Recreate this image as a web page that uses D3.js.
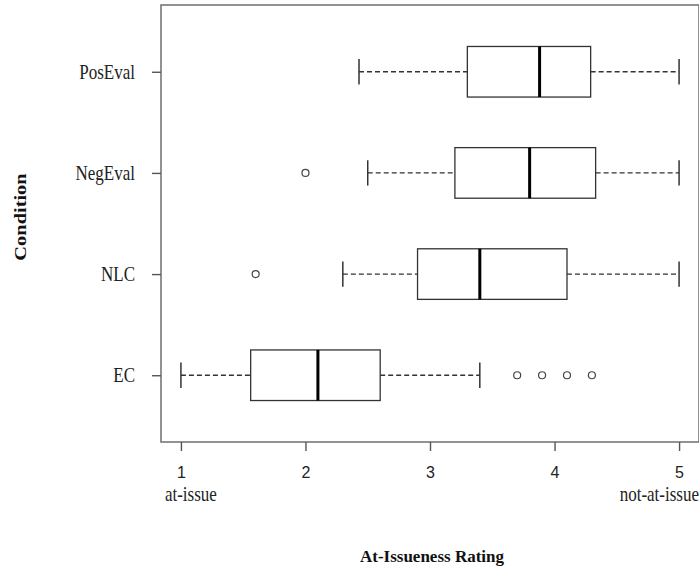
<!DOCTYPE html>
<meta charset="utf-8">
<style>
body { margin: 0; background: #fff; }
.frame { fill: none; stroke: #777; stroke-width: 1.6px; }
.box { fill: #fff; stroke: #333; stroke-width: 1.3px; }
.median { stroke: #000; stroke-width: 3px; }
.whisker { stroke: #333; stroke-width: 1.3px; stroke-dasharray: 5,3; }
.staple { stroke: #333; stroke-width: 1.5px; }
.outlier { fill: none; stroke: #444; stroke-width: 1.2px; }
.xaxis text { font: 16px "Liberation Sans", Arial, sans-serif; fill: #222; }
.xaxis line, .yaxis line { stroke: #555; stroke-width: 1.4px; }
.yaxis text { font: 17px "Liberation Serif", "Times New Roman", serif; fill: #222; }
.note { font: 17px "Liberation Serif", "Times New Roman", serif; fill: #222; }
.title { font: bold 17px "Liberation Serif", "Times New Roman", serif; fill: #111; }
</style>
<svg width="699" height="571"></svg>
<script src="https://d3js.org/d3.v7.min.js"></script>
<script>
// values, bottom to top
var conditions = ["EC", "NLC", "NegEval", "PosEval"];
var whiskerLow = [1.0, 2.3, 2.5, 2.43];
var q1 = [1.56, 2.9, 3.2, 3.3];
var medians = [2.1, 3.4, 3.8, 3.88];
var q3 = [2.6, 4.1, 4.33, 4.29];
var whiskerHigh = [3.4, 5.0, 5.0, 5.0];
var outliers = [[3.7, 3.9, 4.1, 4.3], [1.6], [2.0], []];
var xTicks = [1, 2, 3, 4, 5];

var svg = d3.select("svg");
var plotLeft = 161, plotRight = 699, plotTop = 5, plotBottom = 442;
var stretch = "scale(1,1.25)";   // the original text is a bit taller than wide

var x = d3.scaleLinear().domain([0.84, 5.16]).range([plotLeft, plotRight]);
var y = d3.scaleLinear().domain([0.34, 4.66]).range([plotBottom, plotTop]);
var boxHalf = 0.25, stapleHalf = 0.125;

var stats = conditions.map(function(c, i) {
    return { name: c, pos: i + 1, lo: whiskerLow[i], q1: q1[i], med: medians[i],
             q3: q3[i], hi: whiskerHigh[i], out: outliers[i] };
});

var grp = svg.append("g").selectAll(".cond").data(stats).enter().append("g").attr("class", "cond");

// whiskers
grp.append("line").attr("class", "whisker")
    .attr("x1", function(d) { return x(d.lo); }).attr("x2", function(d) { return x(d.q1); })
    .attr("y1", function(d) { return y(d.pos); }).attr("y2", function(d) { return y(d.pos); });
grp.append("line").attr("class", "whisker")
    .attr("x1", function(d) { return x(d.q3); }).attr("x2", function(d) { return x(d.hi); })
    .attr("y1", function(d) { return y(d.pos); }).attr("y2", function(d) { return y(d.pos); });

// staples
grp.append("line").attr("class", "staple")
    .attr("x1", function(d) { return x(d.lo); }).attr("x2", function(d) { return x(d.lo); })
    .attr("y1", function(d) { return y(d.pos + stapleHalf); }).attr("y2", function(d) { return y(d.pos - stapleHalf); });
grp.append("line").attr("class", "staple")
    .attr("x1", function(d) { return x(d.hi); }).attr("x2", function(d) { return x(d.hi); })
    .attr("y1", function(d) { return y(d.pos + stapleHalf); }).attr("y2", function(d) { return y(d.pos - stapleHalf); });

// boxes
grp.append("rect").attr("class", "box")
    .attr("x", function(d) { return x(d.q1); })
    .attr("y", function(d) { return y(d.pos + boxHalf); })
    .attr("width", function(d) { return x(d.q3) - x(d.q1); })
    .attr("height", function(d) { return y(d.pos - boxHalf) - y(d.pos + boxHalf); });

grp.append("line").attr("class", "median")
    .attr("x1", function(d) { return x(d.med); }).attr("x2", function(d) { return x(d.med); })
    .attr("y1", function(d) { return y(d.pos + boxHalf); }).attr("y2", function(d) { return y(d.pos - boxHalf); });

grp.selectAll(".outlier")
    .data(function(d) { return d.out.map(function(v) { return { v: v, pos: d.pos }; }); })
    .enter().append("circle").attr("class", "outlier")
    .attr("cx", function(d) { return x(d.v); })
    .attr("cy", function(d) { return y(d.pos); })
    .attr("r", 3.5);

// frame
svg.append("rect").attr("class", "frame")
    .attr("x", plotLeft).attr("y", plotTop)
    .attr("width", plotRight - plotLeft).attr("height", plotBottom - plotTop);

// axes
var xAxis = svg.append("g").attr("class", "xaxis")
    .attr("transform", "translate(0," + plotBottom + ")")
    .call(d3.axisBottom(x).tickValues(xTicks).tickFormat(d3.format("d")).tickSize(9).tickPadding(16));
xAxis.select(".domain").remove();

var yAxis = svg.append("g").attr("class", "yaxis")
    .attr("transform", "translate(" + plotLeft + ",0)")
    .call(d3.axisLeft(y).tickValues([1, 2, 3, 4])
        .tickFormat(function(d) { return conditions[d - 1]; })
        .tickSize(9).tickPadding(17));
yAxis.select(".domain").remove();
yAxis.selectAll("text").attr("dy", "0.3em").attr("transform", stretch);

svg.append("g").attr("transform", "translate(" + (x(1) - 16) + ",501)")
    .append("text").attr("class", "note").attr("transform", stretch).text("at-issue");
svg.append("g").attr("transform", "translate(699,501)")
    .append("text").attr("class", "note").attr("transform", stretch)
    .attr("text-anchor", "end").text("not-at-issue");

svg.append("text").attr("class", "title")
    .attr("x", 432).attr("y", 562).attr("text-anchor", "middle").text("At-Issueness Rating");
svg.append("text").attr("class", "title")
    .attr("transform", "translate(26,217) rotate(-90) scale(1.2,1)")
    .attr("text-anchor", "middle").text("Condition");
</script>
